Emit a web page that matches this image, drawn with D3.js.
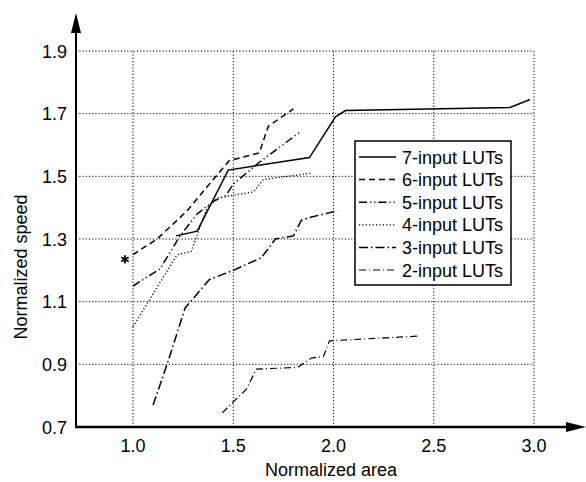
<!DOCTYPE html>
<html>
<head>
<meta charset="utf-8">
<script src="https://cdn.jsdelivr.net/npm/d3@7"></script>
<style>
  body { margin: 0; background: #fff; }
  svg { display: block; font-family: "Liberation Sans", Arial, sans-serif; }
</style>
</head>
<body>
<svg id="chart" width="586" height="482"></svg>
<script>
// data (normalized area, normalized speed)
const lut7 = [[1.215, 1.31], [1.32, 1.325], [1.475, 1.52], [1.88, 1.56], [2.01, 1.69], [2.06, 1.71], [2.88, 1.72], [2.98, 1.745]];
const lut6 = [[1.00, 1.25], [1.12, 1.30], [1.27, 1.39], [1.40, 1.49], [1.48, 1.55], [1.63, 1.575], [1.675, 1.66], [1.80, 1.715]];
const lut5 = [[1.00, 1.15], [1.135, 1.205], [1.235, 1.31], [1.32, 1.38], [1.40, 1.42], [1.465, 1.44], [1.50, 1.475], [1.63, 1.545], [1.83, 1.64]];
const lut4 = [[1.00, 1.02], [1.22, 1.25], [1.29, 1.26], [1.37, 1.40], [1.42, 1.43], [1.50, 1.44], [1.60, 1.45], [1.65, 1.49], [1.89, 1.51]];
const lut3 = [[1.10, 0.77], [1.17, 0.90], [1.26, 1.08], [1.38, 1.17], [1.50, 1.20], [1.64, 1.24], [1.71, 1.30], [1.80, 1.31], [1.84, 1.36], [1.89, 1.37], [2.02, 1.39]];
const lut2 = [[1.445, 0.745], [1.50, 0.78], [1.565, 0.82], [1.615, 0.885], [1.82, 0.89], [1.89, 0.92], [1.95, 0.925], [1.98, 0.975], [2.42, 0.99]];
const starPoint = [0.96, 1.235];

const seriesNames = ["7-input LUTs", "6-input LUTs", "5-input LUTs", "4-input LUTs", "3-input LUTs", "2-input LUTs"];
const xTicks = [1.0, 1.5, 2.0, 2.5, 3.0];
const yTicks = [0.7, 0.9, 1.1, 1.3, 1.5, 1.7, 1.9];

// line styles, same order as names
const dashes = [null, "6,4", "8,3,1.2,3,1.2,3", "1.2,2.2", "9,3,1.5,3", "7,3,1,3"];
const widths = [1.5, 1.5, 1.5, 1.3, 1.5, 1.2];
const seriesData = [lut7, lut6, lut5, lut4, lut3, lut2];

const svg = d3.select("#chart");
const x = d3.scaleLinear().domain([1, 3]).range([133, 534]);
const y = d3.scaleLinear().domain([0.7, 1.9]).range([427, 51]);
const axisLeftX = 76, axisBottomY = 427;

// grid
const grid = svg.append("g").attr("stroke", "#000").attr("stroke-width", 1).attr("stroke-dasharray", "1.2,2");
grid.selectAll("line.v").data(xTicks).enter().append("line")
  .attr("x1", d => x(d)).attr("x2", d => x(d))
  .attr("y1", axisBottomY).attr("y2", y(1.9));
grid.selectAll("line.h").data(yTicks.filter(d => d > 0.7)).enter().append("line")
  .attr("x1", axisLeftX).attr("x2", x(3))
  .attr("y1", d => y(d)).attr("y2", d => y(d));

// series
const line = d3.line().x(d => x(d[0])).y(d => y(d[1]));
seriesData.forEach((s, i) => {
  svg.append("path").datum(s)
    .attr("d", line)
    .attr("fill", "none")
    .attr("stroke", "#000")
    .attr("stroke-width", widths[i])
    .attr("stroke-dasharray", dashes[i]);
});

// star marker
svg.append("path")
  .attr("d", d3.symbol(d3.symbolAsterisk, 50)())
  .attr("transform", `translate(${x(starPoint[0])},${y(starPoint[1])})`)
  .attr("fill", "none").attr("stroke", "#000").attr("stroke-width", 1.8);

// axes with arrows
svg.append("line").attr("x1", axisLeftX).attr("x2", axisLeftX)
  .attr("y1", axisBottomY + 1).attr("y2", 30).attr("stroke", "#000").attr("stroke-width", 2);
svg.append("path").attr("d", `M${axisLeftX},13 L${axisLeftX - 5},33 L${axisLeftX + 5},33 Z`).attr("fill", "#000");
svg.append("line").attr("x1", axisLeftX - 1).attr("x2", 570)
  .attr("y1", axisBottomY).attr("y2", axisBottomY).attr("stroke", "#000").attr("stroke-width", 2.5);
svg.append("path").attr("d", `M586,${axisBottomY} L566,${axisBottomY - 5} L566,${axisBottomY + 5} Z`).attr("fill", "#000");

// tick labels
svg.selectAll("text.yt").data(yTicks).enter().append("text")
  .attr("x", 67).attr("y", d => y(d) + 6.5)
  .attr("text-anchor", "end").attr("font-size", 18)
  .text(d => d.toFixed(1));
svg.selectAll("text.xt").data(xTicks).enter().append("text")
  .attr("x", d => x(d)).attr("y", 452)
  .attr("text-anchor", "middle").attr("font-size", 18)
  .text(d => d.toFixed(1));

// axis titles
svg.append("text").attr("x", 331).attr("y", 476).attr("text-anchor", "middle")
  .attr("font-size", 18).text("Normalized area");
svg.append("text").attr("transform", "translate(27,267) rotate(-90)")
  .attr("text-anchor", "middle").attr("font-size", 18).text("Normalized speed");

// legend
const leg = svg.append("g");
leg.append("rect").attr("x", 355).attr("y", 141).attr("width", 156).attr("height", 144)
  .attr("fill", "#fff").attr("stroke", "#000").attr("stroke-width", 1.5);
seriesNames.forEach((name, i) => {
  const ry = 157 + i * 22.6;
  leg.append("line").attr("x1", 359).attr("x2", 396).attr("y1", ry).attr("y2", ry)
    .attr("stroke", "#000").attr("stroke-width", widths[i]).attr("stroke-dasharray", dashes[i]);
  leg.append("text").attr("x", 402).attr("y", ry + 6.5).attr("font-size", 18).text(name);
});
</script>
</body>
</html>
